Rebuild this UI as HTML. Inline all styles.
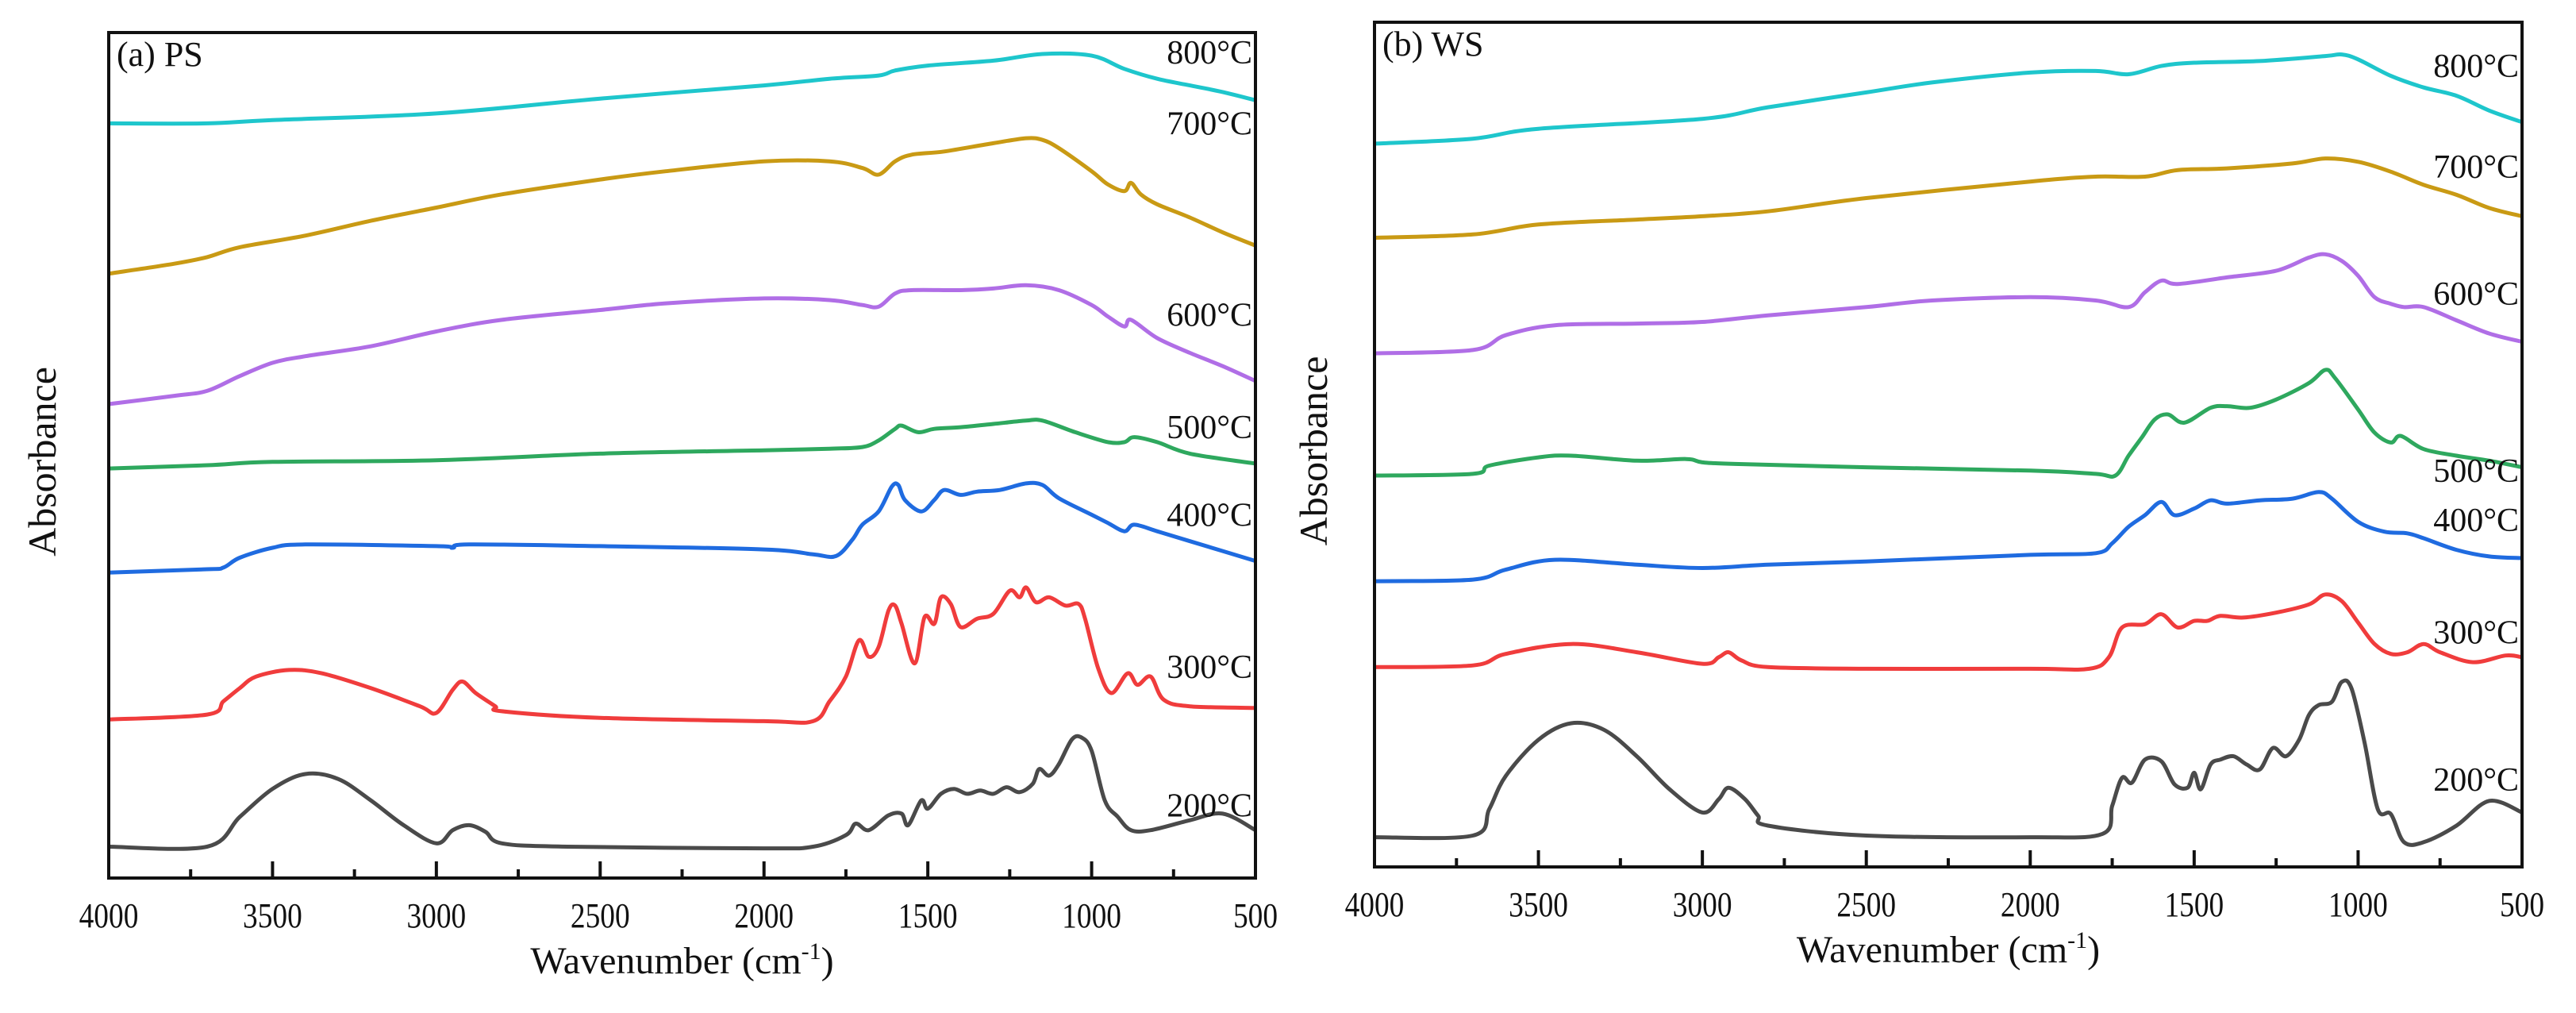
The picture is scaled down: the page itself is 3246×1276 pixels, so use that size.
<!DOCTYPE html>
<html><head><meta charset="utf-8"><style>
html,body{margin:0;padding:0;background:#fff;}
svg text{font-family:"Liberation Serif","Noto Serif CJK SC",serif;fill:#111;}
</style></head><body>
<svg id="chart" width="3246" height="1271" viewBox="0 0 3246 1271" xmlns="http://www.w3.org/2000/svg"></svg>
<script>
// Series values: [wavenumber (cm-1), relative depth in plot units, 0 = top]
const psT = ["800°C","700°C","600°C","500°C","400°C","300°C","200°C"];
const colors = ["#1ec6cc","#c99a14","#b06ee6","#2ea85e","#1f6be0","#f03c3c","#4a4a4a"];
const xTicks = [4000,3500,3000,2500,2000,1500,1000,500];

const ps800=[[4000,75],[3700,75],[3500,73],[3000,69],[2500,60],[2000,52],[1800,48],[1650,46],[1600,43],[1500,40],[1300,37],[1150,33],[1000,34],[900,42],[800,48],[700,52],[600,56],[500,61]];
const ps700=[[4000,166],[3800,160],[3700,156],[3600,150],[3400,143],[3200,134],[3000,126],[2800,118],[2500,109],[2300,104],[2000,98],[1800,98],[1700,102],[1650,106],[1600,98],[1550,94],[1450,92],[1300,87],[1200,84],[1150,85],[1100,90],[1000,104],[950,112],[900,116],[880,111],[850,118],[800,124],[700,132],[600,141],[500,149]];
const ps600=[[4000,245],[3800,240],[3700,237],[3600,228],[3500,220],[3400,216],[3200,210],[3000,201],[2800,194],[2500,188],[2300,184],[2000,181],[1800,182],[1700,185],[1650,186],[1600,178],[1550,176],[1400,176],[1300,175],[1200,173],[1100,176],[1000,185],[950,192],[900,198],[880,194],[800,205],[700,214],[600,222],[500,231]];
const ps500=[[4000,284],[3700,282],[3500,280],[3000,279],[2500,275],[2000,273],[1800,272],[1700,271],[1650,267],[1600,260],[1580,258],[1530,262],[1480,260],[1400,259],[1300,257],[1200,255],[1150,255],[1050,262],[950,268],[900,268],[870,265],[800,268],[700,275],[500,281]];
const ps400=[[4000,347],[3700,345],[3650,344],[3600,338],[3500,332],[3400,330],[3000,331],[2950,332],[2900,330],[2500,331],[2000,333],[1850,336],[1780,337],[1730,327],[1700,318],[1650,310],[1610,295],[1590,294],[1570,303],[1520,310],[1480,303],[1450,297],[1400,300],[1350,298],[1280,297],[1200,293],[1150,294],[1100,302],[1000,312],[950,317],[900,322],[870,318],[800,322],[700,328],[500,340]];
const ps300=[[4000,436],[3700,433],[3650,425],[3600,417],[3550,410],[3450,406],[3350,408],[3200,417],[3050,428],[3000,432],[2950,418],[2920,413],[2880,420],[2820,428],[2800,431],[2500,435],[2000,437],[1850,437],[1800,425],[1750,410],[1710,388],[1680,398],[1650,392],[1620,370],[1600,367],[1580,378],[1540,402],[1510,374],[1480,378],[1460,362],[1430,366],[1400,380],[1350,375],[1300,372],[1250,358],[1220,362],[1200,356],[1170,365],[1130,362],[1080,367],[1040,366],[1020,375],[980,405],[940,420],[890,408],[860,415],[820,410],[780,424],[700,428],[500,429]];
const ps200=[[4000,513],[3700,513],[3600,495],[3500,478],[3400,469],[3300,472],[3200,485],[3100,500],[3000,511],[2950,503],[2900,500],[2850,504],[2800,511],[2600,513],[2000,514],[1850,513],[1750,506],[1720,499],[1680,503],[1620,494],[1580,493],[1560,500],[1520,485],[1500,490],[1460,481],[1420,478],[1380,481],[1340,479],[1300,481],[1260,477],[1220,480],[1180,475],[1160,466],[1130,470],[1100,463],[1060,448],[1030,447],[1000,455],[960,485],[920,495],[880,503],[820,503],[700,497],[600,493],[500,503]];

const ws800=[[4000,87],[3700,84],[3500,78],[3000,72],[2800,65],[2500,56],[2300,50],[2000,44],[1800,43],[1700,45],[1600,40],[1500,38],[1300,37],[1100,34],[1050,33],[1000,36],[900,46],[800,53],[700,58],[600,67],[500,74]];
const ws700=[[4000,144],[3700,142],[3500,136],[3200,133],[3000,131],[2800,128],[2500,120],[2000,110],[1800,107],[1650,107],[1550,103],[1400,102],[1200,99],[1100,96],[1000,98],[900,104],[800,112],[700,118],[600,126],[500,131]];
const ws600=[[4000,214],[3700,212],[3600,203],[3450,197],[3200,196],[3000,195],[2800,191],[2500,186],[2300,182],[2000,180],[1800,182],[1700,186],[1650,177],[1600,170],[1550,172],[1400,168],[1250,164],[1150,156],[1100,154],[1050,158],[1000,167],[950,180],[900,184],[860,186],[800,186],[700,194],[600,202],[500,207]];
const ws500=[[4000,288],[3700,287],[3650,282],[3500,277],[3400,276],[3200,279],[3050,278],[3000,280],[2900,281],[2500,283],[2000,285],[1800,287],[1740,288],[1700,276],[1660,265],[1620,254],[1580,251],[1530,256],[1450,247],[1400,246],[1330,247],[1250,242],[1150,232],[1100,224],[1070,229],[1000,248],[950,262],[900,268],[870,264],[800,272],[700,276],[600,279],[500,283]];
const ws400=[[4000,352],[3700,351],[3600,345],[3450,339],[3200,342],[3000,344],[2800,342],[2500,340],[2000,336],[1800,335],[1750,329],[1700,319],[1650,312],[1600,304],[1560,312],[1500,308],[1450,303],[1400,305],[1300,303],[1200,302],[1120,298],[1080,302],[1000,316],[920,322],[850,323],[800,326],[700,333],[600,337],[500,338]];
const ws300=[[4000,404],[3700,403],[3600,396],[3400,390],[3200,395],[3000,402],[2950,398],[2920,395],[2880,400],[2800,404],[2500,405],[2000,405],[1820,405],[1760,398],[1720,380],[1650,378],[1600,372],[1550,380],[1500,376],[1460,376],[1420,373],[1350,374],[1250,371],[1150,366],[1100,360],[1050,364],[1000,377],[950,390],[900,396],[850,395],[800,390],[750,395],[650,401],[550,397],[500,398]];
const ws200=[[4000,507],[3700,506],[3650,490],[3600,470],[3500,448],[3400,438],[3300,442],[3200,458],[3100,478],[3000,492],[2950,484],[2920,477],[2870,484],[2830,494],[2800,500],[2500,506],[2000,507],[1780,505],[1750,488],[1720,471],[1690,474],[1650,460],[1600,461],[1560,475],[1520,477],[1500,468],[1480,478],[1450,463],[1420,460],[1380,458],[1340,463],[1300,466],[1260,453],[1220,458],[1180,448],[1150,433],[1120,427],[1080,425],[1050,413],[1020,417],[980,450],[940,490],[900,493],[860,510],[800,510],[700,500],[600,485],[500,492]];

const psLabelDepth=[32,75,191,259,312,404,488];
const wsLabelDepth=[40,101,178,285,315,383,472];

const NS="http://www.w3.org/2000/svg";
const svg=document.getElementById('chart');
function mk(tag,attrs,parent){const e=document.createElementNS(NS,tag);for(const k in attrs)e.setAttribute(k,attrs[k]);(parent||svg).appendChild(e);return e;}
function smoothPath(P){
  let d='M'+P[0][0].toFixed(1)+','+P[0][1].toFixed(1);
  for(let i=0;i<P.length-1;i++){
    const p0=P[Math.max(0,i-1)],p1=P[i],p2=P[i+1],p3=P[Math.min(P.length-1,i+2)];
    const t=0.5/3;
    const c1=[p1[0]+(p2[0]-p0[0])*t,p1[1]+(p2[1]-p0[1])*t];
    const c2=[p2[0]-(p3[0]-p1[0])*t,p2[1]-(p3[1]-p1[1])*t];
    d+='C'+c1[0].toFixed(1)+','+c1[1].toFixed(1)+' '+c2[0].toFixed(1)+','+c2[1].toFixed(1)+' '+p2[0].toFixed(1)+','+p2[1].toFixed(1);
  }
  return d;
}

function panel(cfg){
  const g=mk('g',{});
  
  
  const X=w=>cfg.x0+(4000-w)/3500*(cfg.x1-cfg.x0);
  const Y=d=>cfg.y0+(d-cfg.d0)/(cfg.d1-cfg.d0)*(cfg.y1-cfg.y0);
  cfg.series.forEach((s,i)=>{
    const p=mk('path',{d:smoothPath(s.map(pt=>[X(pt[0]),Y(pt[1])])),fill:'none',stroke:colors[i],'stroke-width':5,'stroke-linejoin':'round'},g);
    
    
    const t=mk('text',{x:cfg.x1-4,y:Y(cfg.labels[i])+14,'text-anchor':'end','font-size':42},g);
    t.textContent=psT[i];
    
    
  });
  const fr=mk('rect',{x:cfg.x0,y:cfg.y0,width:cfg.x1-cfg.x0,height:cfg.y1-cfg.y0,fill:'none',stroke:'#111','stroke-width':4},g);
  
  
  for(let w=4000;w>=500;w-=250){
    const major=w%500===0;
    const tk=mk('line',{x1:X(w),x2:X(w),y1:cfg.y1,y2:cfg.y1-(major?21:11),stroke:'#111','stroke-width':4},g);
    
    
  }
  xTicks.forEach(w=>{
    const t=mk('text',{x:X(w),y:cfg.y1+62,'text-anchor':'middle','font-size':44,transform:`translate(${X(w)},0) scale(0.85,1) translate(${-X(w)},0)`},g);
    t.textContent=w;
    
    
  });
  const xt=mk('text',{x:(cfg.x0+cfg.x1)/2,y:cfg.y1+120,'text-anchor':'middle','font-size':48},g);
  xt.innerHTML='Wavenumber (cm<tspan font-size="30" dy="-18">-1</tspan><tspan dy="18">)</tspan>';
  
  
  const yt=mk('text',{x:0,y:0,'text-anchor':'middle','font-size':50,transform:`translate(${cfg.ytx},${(cfg.y0+cfg.y1)/2+8}) rotate(-90)`},g);
  yt.textContent='Absorbance';
  
  
  const pt=mk('text',{x:cfg.x0+10,y:cfg.y0+42,'font-size':44},g);
  pt.textContent=cfg.title;
  
  
}
panel({name:'panel-a-ps',title:'(a)  PS',x0:137,x1:1582,y0:41,y1:1106,d0:20,d1:532,ytx:70,series:[ps800,ps700,ps600,ps500,ps400,ps300,ps200],labels:psLabelDepth});
panel({name:'panel-b-ws',title:'(b)  WS',x0:1732,x1:3178,y0:28,y1:1092,d0:13.5,d1:525,ytx:1672,series:[ws800,ws700,ws600,ws500,ws400,ws300,ws200],labels:wsLabelDepth});
</script>
</body></html>
